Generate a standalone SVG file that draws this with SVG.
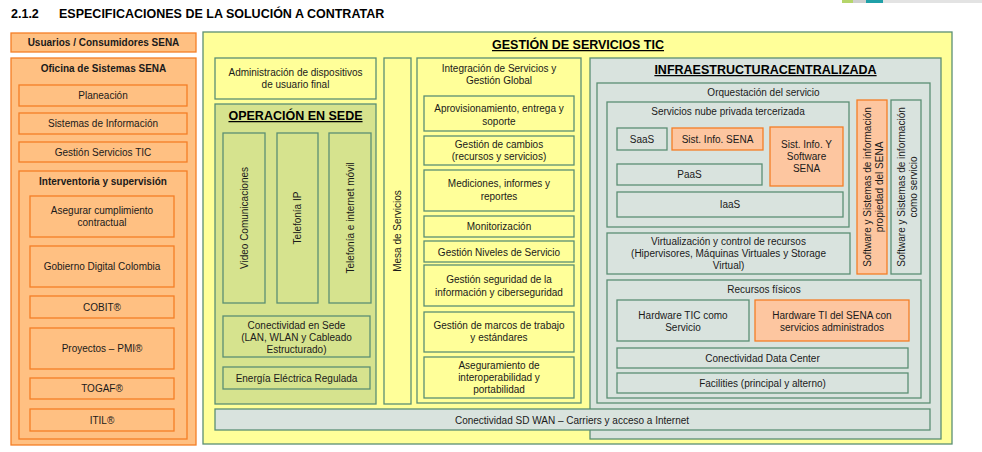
<svg xmlns="http://www.w3.org/2000/svg" width="982" height="452" viewBox="0 0 982 452">
<style>
text{font-family:"Liberation Sans",Arial,sans-serif;font-size:10px;fill:#1a1a1a;text-anchor:middle}
.h{font-weight:bold;font-size:12.5px;text-anchor:start;fill:#000}
.b{font-weight:bold}
.t{font-weight:bold;font-size:12.5px;text-decoration:underline;fill:#000}
.o{fill:#FFC082;stroke:#F47E26;stroke-width:1.3}
.y{fill:#FFFF99;stroke:#5B8F73;stroke-width:1.3}
.g{fill:#D6E38E;stroke:#5B8F73;stroke-width:1.3}
.s{fill:#D9E3DE;stroke:#5B8F73;stroke-width:1.3}
.p{fill:#FDC6A0;stroke:#F47E26;stroke-width:1.3}
</style>
<rect width="982" height="452" fill="#fff"/>
<rect x="842" y="0" width="11" height="3" fill="#B5D56A"/>
<rect x="853" y="0" width="13" height="3" fill="#CFCFCF"/>
<rect x="866" y="0" width="17" height="3" fill="#1FA0A8"/>
<rect x="883" y="0" width="99" height="3" fill="#E3E3E3"/>
<text class="h" x="11" y="18">2.1.2</text>
<text class="h" x="59" y="18">ESPECIFICACIONES DE LA SOLUCIÓN A CONTRATAR</text>

<g id="usuarios"><rect class="o" x="11" y="33" width="185" height="19"/><text class="b" x="103.5" y="46">Usuarios / Consumidores SENA</text></g>
<g id="oficina"><rect class="o" x="11" y="58" width="185" height="387"/><text class="b" x="103.5" y="72">Oficina de Sistemas SENA</text></g>
<g id="planeacion"><rect class="o" x="19" y="85" width="168" height="21"/><text x="103" y="99">Planeación</text></g>
<g id="sistemas-info"><rect class="o" x="19" y="113" width="168" height="21"/><text x="103" y="127">Sistemas de Información</text></g>
<g id="gestion-servicios"><rect class="o" x="19" y="142" width="168" height="20"/><text x="103" y="155.5">Gestión Servicios TIC</text></g>
<g id="interventoria"><rect class="o" x="19" y="171" width="168" height="268"/><text class="b" x="103" y="185">Interventoria y supervisión</text></g>
<g id="asegurar"><rect class="o" x="30" y="196" width="144" height="41"/><text x="102" y="214">Asegurar cumplimiento</text><text x="102" y="226">contractual</text></g>
<g id="gobierno"><rect class="o" x="30" y="246" width="144" height="41"/><text x="102" y="270">Gobierno Digital Colombia</text></g>
<g id="cobit"><rect class="o" x="30" y="296" width="144" height="22"/><text x="102" y="310.5">COBIT®</text></g>
<g id="pmi"><rect class="o" x="30" y="328" width="144" height="41"/><text x="102" y="352">Proyectos – PMI®</text></g>
<g id="togaf"><rect class="o" x="30" y="378" width="144" height="21"/><text x="102" y="392">TOGAF®</text></g>
<g id="itil"><rect class="o" x="30" y="409" width="144" height="22"/><text x="102" y="423.5">ITIL®</text></g>

<g id="gestion-tic"><rect class="y" x="203" y="32" width="749" height="412"/><text class="t" x="578" y="49">GESTIÓN DE SERVICIOS TIC</text></g>
<g id="administracion"><rect class="y" x="215" y="58" width="161" height="41"/><text x="295.5" y="76">Administración de dispositivos</text><text x="295.5" y="88">de usuario final</text></g>
<g id="operacion"><rect class="g" x="215" y="104" width="161" height="300"/><text class="t" x="295.5" y="120">OPERACIÓN EN SEDE</text></g>
<g id="video"><rect class="g" x="223" y="133" width="42" height="170"/><text transform="translate(248,218) rotate(-90)">Video Comunicaciones</text></g>
<g id="telefonia-ip"><rect class="g" x="277" y="133" width="41" height="170"/><text transform="translate(301,218) rotate(-90)">Telefonía IP</text></g>
<g id="telefonia-movil"><rect class="g" x="329" y="133" width="42" height="170"/><text transform="translate(354,218) rotate(-90)">Telefonía e internet móvil</text></g>
<g id="conectividad-sede"><rect class="g" x="223" y="316" width="147" height="41"/><text x="296.5" y="329">Conectividad en Sede</text><text x="296.5" y="341">(LAN, WLAN y Cableado</text><text x="296.5" y="353">Estructurado)</text></g>
<g id="energia"><rect class="g" x="223" y="367" width="147" height="22"/><text x="296.5" y="381.5">Energía Eléctrica Regulada</text></g>
<g id="mesa"><rect class="y" x="384" y="58" width="27" height="346"/><text transform="translate(401,231) rotate(-90)">Mesa de Servicios</text></g>

<g id="integracion"><rect class="y" x="417" y="58" width="164" height="345"/><text x="499" y="72">Integración de Servicios y</text><text x="499" y="84">Gestión Global</text></g>
<g id="aprovisionamiento"><rect class="y" x="424" y="96" width="150" height="35"/><text x="499" y="112">Aprovisionamiento, entrega y</text><text x="499" y="124.5">soporte</text></g>
<g id="cambios"><rect class="y" x="424" y="136" width="150" height="29"/><text x="499" y="147.5">Gestión de cambios</text><text x="499" y="159.5">(recursos y servicios)</text></g>
<g id="mediciones"><rect class="y" x="424" y="170" width="150" height="41"/><text x="499" y="187">Mediciones, informes y</text><text x="499" y="200">reportes</text></g>
<g id="monitorizacion"><rect class="y" x="424" y="216" width="150" height="21"/><text x="499" y="230">Monitorización</text></g>
<g id="niveles"><rect class="y" x="424" y="241" width="150" height="21"/><text x="499" y="255.5">Gestión Niveles de Servicio</text></g>
<g id="seguridad"><rect class="y" x="424" y="265" width="150" height="41"/><text x="499" y="283">Gestión seguridad de la</text><text x="499" y="296">información y ciberseguridad</text></g>
<g id="marcos"><rect class="y" x="424" y="312" width="150" height="40"/><text x="499" y="329">Gestión de marcos de trabajo</text><text x="499" y="341">y estándares</text></g>
<g id="aseguramiento"><rect class="y" x="424" y="357" width="150" height="41"/><text x="499" y="368.5">Aseguramiento de</text><text x="499" y="380.5">interoperabilidad y</text><text x="499" y="393">portabilidad</text></g>

<g id="infraestructura"><rect class="s" x="590" y="58" width="351" height="381"/><text class="t" x="765.5" y="74">INFRAESTRUCTURACENTRALIZADA</text></g>
<g id="orquestacion"><rect class="s" x="597" y="83" width="333" height="320"/><text x="763.5" y="96">Orquestación del servicio</text></g>
<g id="nube"><rect class="s" x="607" y="102" width="242" height="125"/><text x="728" y="115">Servicios nube privada tercerizada</text></g>
<g id="saas"><rect class="s" x="617" y="128" width="50" height="22"/><text x="642" y="142.5">SaaS</text></g>
<g id="sist-info-sena"><rect class="p" x="672" y="128" width="91" height="22"/><text x="717.5" y="142.5">Sist. Info. SENA</text></g>
<g id="sist-info-software"><rect class="p" x="770" y="127" width="73" height="59"/><text x="806.5" y="148">Sist. Info. Y</text><text x="806.5" y="160">Software</text><text x="806.5" y="171.5">SENA</text></g>
<g id="paas"><rect class="s" x="617" y="164" width="145" height="21"/><text x="689.5" y="178">PaaS</text></g>
<g id="iaas"><rect class="s" x="617" y="192" width="226" height="25"/><text x="730" y="208">IaaS</text></g>
<g id="software-propiedad"><rect class="p" x="857" y="100" width="30" height="174"/><text transform="translate(871,187) rotate(-90)">Software y Sistemas de información</text><text transform="translate(882.5,187) rotate(-90)">propiedad del SENA</text></g>
<g id="software-servicio"><rect class="s" x="891" y="100" width="30" height="174"/><text transform="translate(905,187) rotate(-90)">Software y Sistemas de información</text><text transform="translate(916.5,187) rotate(-90)">como servicio</text></g>
<g id="virtualizacion"><rect class="s" x="607" y="233" width="243" height="41"/><text x="728.5" y="245">Virtualización y control de recursos</text><text x="728.5" y="257">(Hipervisores, Máquinas Virtuales y Storage</text><text x="728.5" y="269">Virtual)</text></g>
<g id="recursos-fisicos"><rect class="s" x="607" y="280" width="314" height="118"/><text x="764" y="293">Recursos físicos</text></g>
<g id="hardware-tic"><rect class="s" x="617" y="300" width="132" height="41"/><text x="683" y="318.5">Hardware TIC como</text><text x="683" y="331">Servicio</text></g>
<g id="hardware-sena"><rect class="p" x="755" y="300" width="154" height="41"/><text x="832" y="318.5">Hardware TI del SENA con</text><text x="832" y="331">servicios administrados</text></g>
<g id="conectividad-dc"><rect class="s" x="617" y="348" width="291" height="20"/><text x="762.5" y="361.5">Conectividad Data Center</text></g>
<g id="facilities"><rect class="s" x="617" y="373" width="291" height="20"/><text x="762.5" y="387">Facilities (principal y alterno)</text></g>
<g id="sdwan"><rect class="s" x="215" y="409" width="715" height="21"/><text x="572" y="423.5">Conectividad SD WAN – Carriers y acceso a Internet</text></g>
<g id="connectors"></g>
</svg>
